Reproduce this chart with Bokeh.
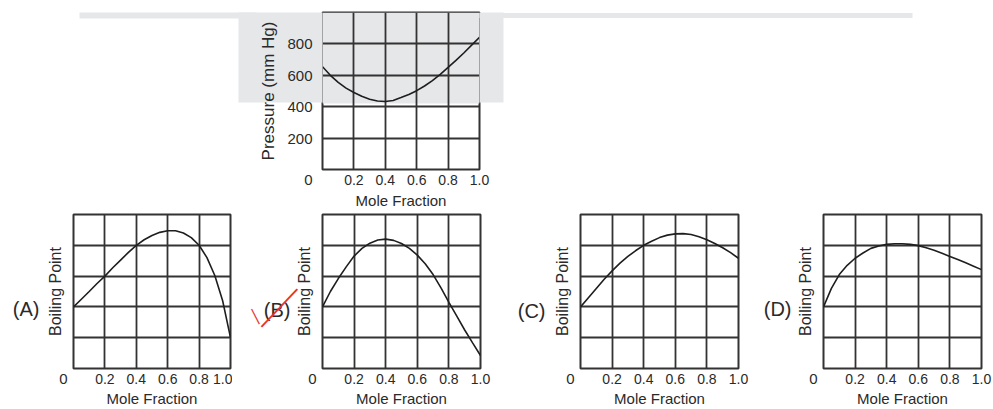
from bokeh.plotting import figure
from bokeh.layouts import column, row
from bokeh.models import (FixedTicker, PrintfTickFormatter, Range1d, LinearAxis,
                          BoxAnnotation)
from bokeh.embed import file_html
from bokeh.resources import INLINE

# ---------------- data ----------------
mole_fraction = [0.0, 0.05, 0.1, 0.15, 0.2, 0.25, 0.3, 0.35, 0.4, 0.45, 0.5,
                 0.55, 0.6, 0.65, 0.7, 0.75, 0.8, 0.85, 0.9, 0.95, 1.0]
pressure = [655, 600, 555, 518, 490, 466, 448, 436, 433, 440, 458,
            478, 502, 532, 566, 606, 650, 695, 742, 792, 842]
bp_a = [2.0, 2.25, 2.5, 2.76, 3.0, 3.27, 3.52, 3.77, 4.0, 4.18, 4.32,
        4.42, 4.47, 4.47, 4.4, 4.25, 4.0, 3.6, 3.02, 2.2, 1.0]
bp_b = [2.0, 2.5, 2.92, 3.3, 3.65, 3.9, 4.07, 4.17, 4.2, 4.16, 4.06,
        3.9, 3.68, 3.4, 3.05, 2.62, 2.15, 1.7, 1.25, 0.83, 0.42]
bp_c = [2.0, 2.3, 2.6, 2.9, 3.17, 3.42, 3.64, 3.83, 4.0, 4.13, 4.25,
        4.33, 4.37, 4.38, 4.35, 4.28, 4.18, 4.06, 3.92, 3.76, 3.58]
bp_d = [2.0, 2.6, 3.05, 3.35, 3.58, 3.75, 3.9, 3.98, 4.03, 4.05, 4.05,
        4.03, 3.99, 3.92, 3.84, 3.74, 3.64, 3.54, 3.43, 3.32, 3.21]
x_ticks = [0.2, 0.4, 0.6, 0.8, 1.0]
x_grid = [0.2, 0.4, 0.6, 0.8]
pressure_ticks = [0, 200, 400, 600, 800]
pressure_grid = [200, 400, 600, 800]
bp_ticks = [0]
bp_grid = [1, 2, 3, 4]
panel_labels = ["(A)", "(B)", "(C)", "(D)"]
x_label = "Mole Fraction"
top_y_label = "Pressure (mm Hg)"
bottom_y_label = "Boiling Point"

# ---------------- styles ----------------
FONT = "Liberation Sans"
TEXT = "#2a2a2a"
GRID = "#333333"
CURVE = "#1e1e1e"
GRAY = "#e6e7e9"
RED = "#e8322b"
STROKE = "\u2014"


def bare(ax):
    ax.axis_line_color = None
    ax.major_tick_line_color = None
    ax.minor_tick_line_color = None
    ax.major_tick_out = 0
    ax.major_tick_in = 0
    ax.minor_tick_out = 0
    ax.minor_tick_in = 0


def base_fig(width, height, ymax, mbl, mbr, mbt, mbb, yticks, ygrid, ylabel, ylabel_size,
             xlabel_standoff):
    p = figure(width=width, height=height, x_range=Range1d(0, 1), y_range=Range1d(0, ymax),
               output_backend="svg", toolbar_location=None,
               min_border_left=mbl, min_border_right=mbr,
               min_border_top=mbt, min_border_bottom=mbb)
    p.background_fill_color = "white"
    p.border_fill_color = "white"
    p.outline_line_color = GRID
    p.outline_line_width = 2
    p.xgrid.ticker = FixedTicker(ticks=x_grid)
    p.ygrid.ticker = FixedTicker(ticks=ygrid)
    for g in (p.xgrid[0], p.ygrid[0]):
        g.grid_line_color = GRID
        g.grid_line_width = 1.8
    xa = p.xaxis[0]
    bare(xa)
    xa.ticker = FixedTicker(ticks=x_ticks)
    xa.formatter = PrintfTickFormatter(format="%.1f")
    xa.major_label_standoff = 5
    xa.major_label_text_font = FONT
    xa.major_label_text_font_size = "14px"
    xa.major_label_text_color = TEXT
    xa.axis_label = x_label
    xa.axis_label_text_font = FONT
    xa.axis_label_text_font_size = "15px"
    xa.axis_label_text_font_style = "normal"
    xa.axis_label_text_color = TEXT
    xa.axis_label_standoff = xlabel_standoff
    ya = p.yaxis[0]
    bare(ya)
    ya.ticker = FixedTicker(ticks=yticks)
    ya.major_label_overrides = {0: "\n0"}
    ya.major_label_text_font = FONT
    ya.major_label_text_font_size = "15px"
    ya.major_label_text_color = TEXT
    ya.axis_label = ylabel
    ya.axis_label_text_font = FONT
    ya.axis_label_text_font_size = ylabel_size
    ya.axis_label_text_font_style = "normal"
    ya.axis_label_text_color = TEXT
    return p


def text_axis(p, tick, text, size, color, standoff, angle="horizontal"):
    ax = LinearAxis(ticker=FixedTicker(ticks=[tick]), formatter=PrintfTickFormatter(format=text))
    bare(ax)
    ax.major_label_orientation = angle
    ax.major_label_text_font = FONT
    ax.major_label_text_font_size = size
    ax.major_label_text_color = color
    ax.major_label_standoff = standoff
    p.add_layout(ax, "left")
    return ax


# ---------------- top chart ----------------
def top_value(py):  # page pixel row -> pressure value (decoration placement only)
    return (169.0 - py) * 1000.0 / 157.0


top = base_fig(993, 211, 1000, 322, 514, 12, 42, pressure_ticks, pressure_grid,
               top_y_label, "17px", 4)

# scanned-page gray shading behind the upper part of the top chart
region_rows = [top_value(15 + 4 * i) for i in range(22)]
top.add_layout(BoxAnnotation(bottom=top_value(103), fill_color=GRAY, fill_alpha=1.0,
                             line_color=None, level="image"))
ya = top.yaxis[0]
ya.ticker = FixedTicker(ticks=pressure_ticks, minor_ticks=region_rows)
ya.minor_tick_line_color = GRAY
ya.minor_tick_line_width = 6
ya.minor_tick_out = 84
ya.major_label_standoff = 10 - 84
ya.axis_label_standoff = 6

band_left = LinearAxis(ticker=FixedTicker(ticks=[], minor_ticks=[top_value(13.5), top_value(16.0)]))
bare(band_left)
band_left.minor_tick_line_color = GRAY
band_left.minor_tick_line_width = 4
band_left.minor_tick_out = 177
top.add_layout(band_left, "left")

band_right = LinearAxis(ticker=FixedTicker(ticks=[top_value(13.5), top_value(15.5)],
                                           minor_ticks=region_rows),
                        formatter=PrintfTickFormatter(format=""))
bare(band_right)
band_right.major_tick_line_color = GRAY
band_right.major_tick_line_width = 3
band_right.major_tick_out = 433
band_right.minor_tick_line_color = GRAY
band_right.minor_tick_line_width = 6
band_right.minor_tick_out = 24
top.add_layout(band_right, "right")

top.line(mole_fraction, pressure, line_color=CURVE, line_width=1.6)


# ---------------- bottom charts ----------------
def bp_value(py):  # page pixel row -> boiling-point axis value (label placement only)
    return (370.0 - py) * 5.0 / 156.0


bottom_specs = [  # width, min_border_left, min_border_right, label row, label standoff
    (232, 73, 2, 310.0, 5),
    (273, 90, 25, 311.0, 3),
    (255, 75, 22, 311.5, 6),
    (233, 63, 12, 309.5, 3),
]
series = [bp_a, bp_b, bp_c, bp_d]
bottom = []
for (w, mbl, mbr, ly, lso), ys, lab in zip(bottom_specs, series, panel_labels):
    p = base_fig(w, 198, 5, mbl, mbr, 3, 39, bp_ticks, bp_grid, bottom_y_label, "16px", 3)
    ya = p.yaxis[0]
    ya.major_label_standoff = 6
    ya.axis_label_standoff = -8
    p.line(mole_fraction, ys, line_color=CURVE, line_width=1.6)
    text_axis(p, bp_value(ly), lab, "20px", TEXT, lso)
    bottom.append(p)

# red hand-drawn tick mark over "(B)": a short and a long stroke
text_axis(bottom[1], bp_value(324.5), STROKE, "17px", RED, 0, angle=-1.094)
text_axis(bottom[1], bp_value(288.0), STROKE + STROKE, "26px", RED, -63, angle=0.813)

layout = column(top, row(*bottom, spacing=0), spacing=0)

open("out.html", "w").write(file_html(layout, INLINE))
